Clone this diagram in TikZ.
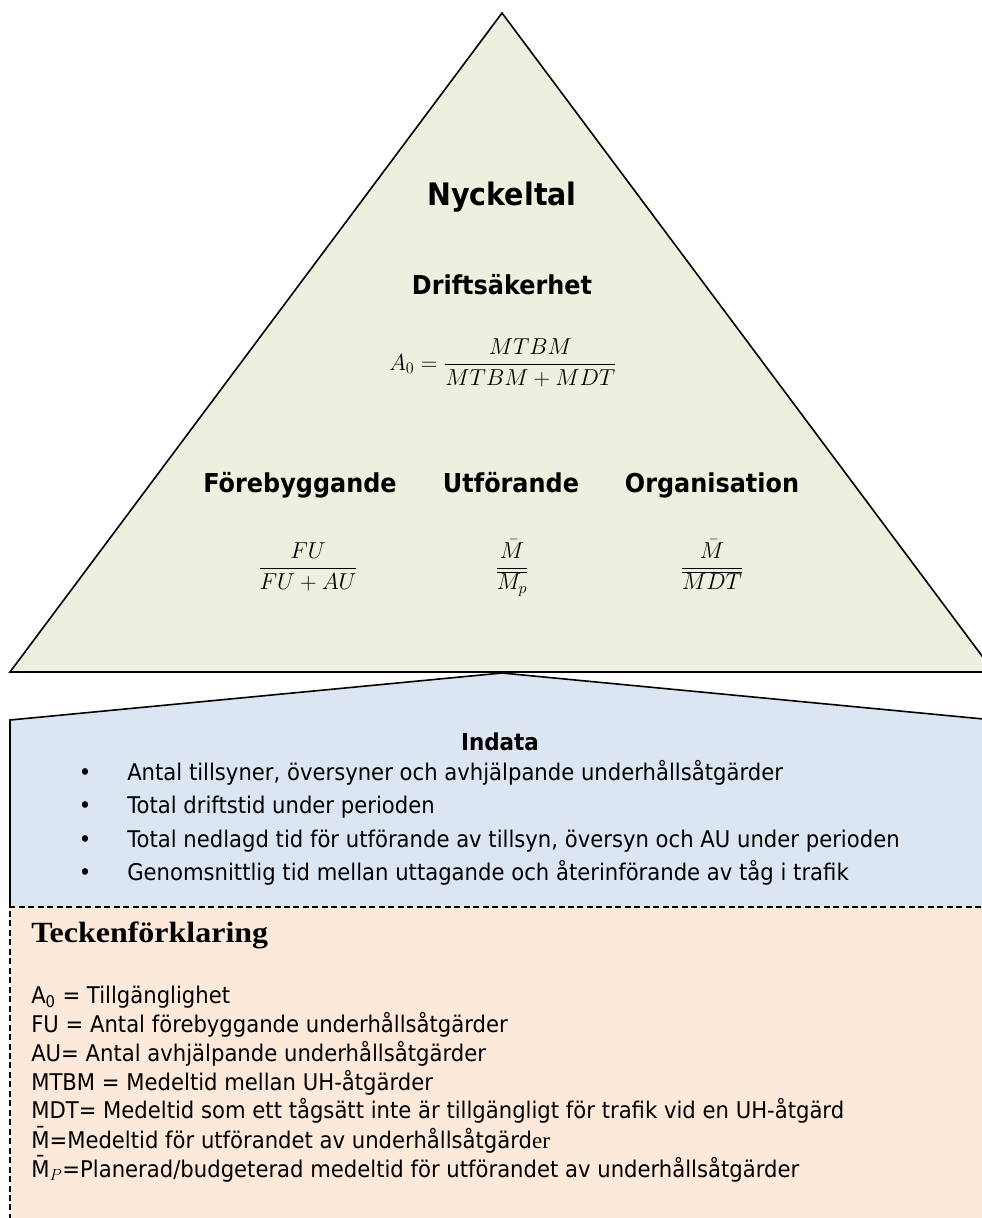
\documentclass[tikz,border=0pt]{standalone}
\usepackage[no-math]{fontspec}
\setmainfont{DejaVu Sans}[FakeStretch=0.92]
\newfontfamily\legserif{Liberation Serif}
\newfontfamily\legserifwide{Liberation Serif}[FakeStretch=1.09]
\definecolor{kpigreen}{HTML}{EBF1DE}
\definecolor{inblue}{HTML}{DCE6F2}
\definecolor{legpeach}{HTML}{FCE9DA}
\begin{document}
\begin{tikzpicture}[x=0.75pt,y=-0.75pt,
  outline/.style={draw=black, line width=1.2pt, line join=miter},
  title/.style={inner sep=0pt, anchor=base, font=\fontsize{23.25}{28}\selectfont\bfseries},
  lbl/.style={inner sep=0pt, anchor=base, font=\fontsize{19.5}{23}\selectfont\bfseries},
  fml/.style={inner sep=0pt, anchor=base, font=\fontsize{17.28}{21}\selectfont},
  body/.style={inner sep=0pt, anchor=base west, font=\fontsize{17.25}{21}\selectfont},
  bul/.style={inner sep=0pt, anchor=base, font=\fontsize{17.25}{21}\selectfont},
  leghead/.style={inner sep=0pt, anchor=base west, font=\fontsize{22}{26}\selectfont\legserifwide\bfseries}]
\useasboundingbox (0,0) rectangle (982,1218);
\begin{scope}
  \clip (0,0) rectangle (982,1218);
  % pyramid of key figures
  \path[fill=kpigreen] (502,13) -- (994,672) -- (10,672) -- cycle;
  % input data panel
  \path[fill=inblue] (10,907) -- (10,720) -- (502,673) -- (994,720) -- (994,907) -- cycle;
  \draw[outline] (10,907) -- (10,720) -- (502,673) -- (994,720);
  % legend panel
  \path[fill=legpeach] (10,907) rectangle (1000,1230);
  \draw[line width=1.1pt, dash pattern=on 4.5pt off 2.6pt] (1000,907) -- (10,907) -- (10,1230);
  \draw[outline] (502,13) -- (994,672) -- (10,672) -- cycle;
\end{scope}

% headings inside the pyramid
\node[title] (nyckeltal) at (502,205) {Nyckeltal};
\node[lbl] (drift) at (502,294) {Driftsäkerhet};
\node[fml] (formA) at (503,370) {$\displaystyle A_0=\frac{MTBM}{MTBM+MDT}$};

\node[lbl] (fore) at (300,492) {Förebyggande};
\node[lbl] (utf) at (511,492) {Utförande};
\node[lbl] (org) at (712,492) {Organisation};

\node[fml] (fFore) at (308,574) {$\displaystyle\frac{FU}{FU+AU}$};
\node[fml] (fUtf) at (512,574) {$\displaystyle\frac{\bar{M}}{\overline{M_p}}$};
\node[fml] (fOrg) at (712,574) {$\displaystyle\frac{\bar{M}}{\overline{MDT}}$};

% input data
\node[lbl, font=\fontsize{17.5}{21}\selectfont\bfseries] (indata) at (500,750) {Indata};
\foreach \y/\t [count=\i] in {
  780/{Antal tillsyner, översyner och avhjälpande underhållsåtgärder},
  813/{Total driftstid under perioden},
  847/{Total nedlagd tid för utförande av tillsyn, översyn och AU under perioden},
  880/{Genomsnittlig tid mellan uttagande och återinförande av tåg i trafik}}{
  \node[bul] (dot\i) at (85,\y) {•};
  \node[body] (item\i) at (127,\y) {\t};
}

% legend
\node[leghead] (leg) at (31,942) {Teckenförklaring};
\node[body] (l1) at (31,1003) {A\textsubscript{0} = Tillgänglighet};
\node[body] (l2) at (31,1032) {FU = Antal förebyggande underhållsåtgärder};
\node[body] (l3) at (31,1061) {AU= Antal avhjälpande underhållsåtgärder};
\node[body] (l4) at (31,1090) {MTBM = Medeltid mellan UH-åtgärder};
\node[body] (l5) at (31,1118) {MDT= Medeltid som ett tågsätt inte är tillgängligt för trafik vid en UH-åtgärd};
\node[body] (l6) at (31,1148) {\={M}=Medeltid för utförandet av underhållsåtgärd{\legserif er}};
\node[body] (l7) at (31,1177) {\={M}$_{P}$=Planerad/budgeterad medeltid för utförandet av underhållsåtgärder};
\end{tikzpicture}
\end{document}
